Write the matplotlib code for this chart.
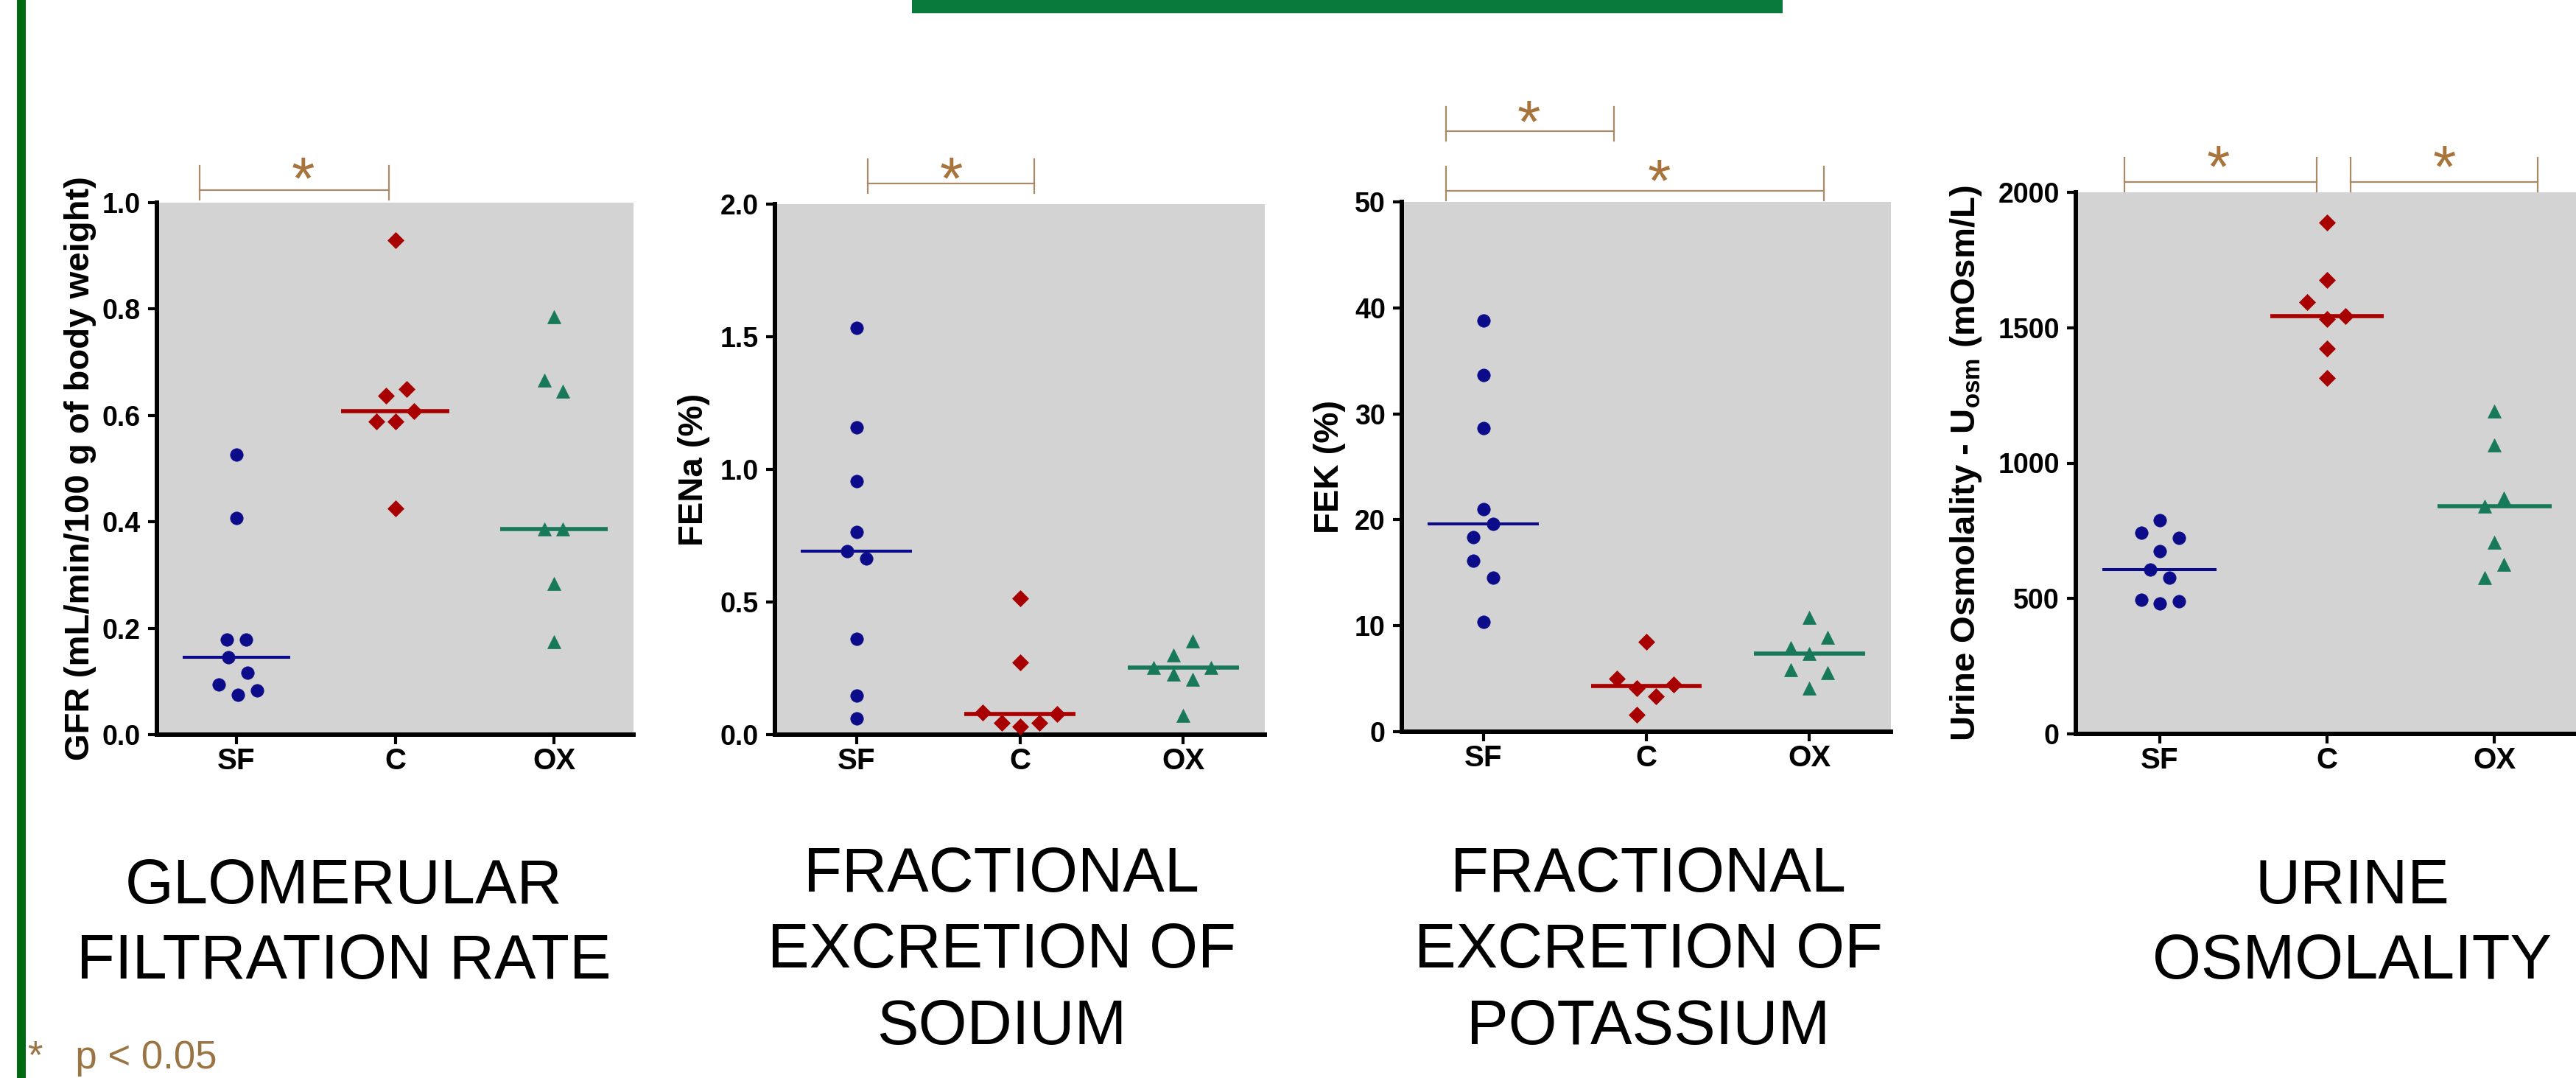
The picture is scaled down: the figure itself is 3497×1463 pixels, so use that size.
import numpy as np
import matplotlib
matplotlib.use("Agg")
import matplotlib.pyplot as plt

plt.rcParams['font.family'] = ['Liberation Sans', 'DejaVu Sans']
plt.rcParams['mathtext.fontset'] = 'custom'
plt.rcParams['mathtext.rm'] = 'Liberation Sans'
plt.rcParams['mathtext.bf'] = 'Liberation Sans:bold'

# ---------------- data ----------------
groups = ["SF", "C", "OX"]

gfr_sf = [0.527, 0.407, 0.178, 0.178, 0.146, 0.117, 0.094, 0.083, 0.075]
gfr_c = [0.929, 0.650, 0.637, 0.608, 0.589, 0.589, 0.425]
gfr_ox = [0.786, 0.666, 0.645, 0.387, 0.387, 0.284, 0.175]

fena_sf = [1.534, 1.158, 0.955, 0.764, 0.692, 0.665, 0.362, 0.148, 0.061]
fena_c = [0.513, 0.271, 0.084, 0.077, 0.044, 0.030, 0.044]
fena_ox = [0.354, 0.300, 0.253, 0.253, 0.229, 0.207, 0.072]

fek_sf = [38.77, 33.66, 28.64, 21.0, 19.58, 18.34, 16.12, 14.56, 10.35]
fek_c = [8.48, 5.02, 4.48, 4.13, 3.37, 1.60]
fek_ox = [10.79, 8.93, 7.90, 7.35, 5.82, 5.55, 4.13]

uosm_sf = [790, 743, 724, 674, 608, 578, 495, 490, 481]
uosm_c = [1888, 1676, 1595, 1543, 1532, 1423, 1314]
uosm_ox = [1193, 1068, 872, 840, 708, 625, 578]

# horizontal scatter spread of the points inside each group (category units)
gfr_dx = [[0, 0, -0.06, 0.06, -0.05, 0.07, -0.11, 0.13, 0.01],
          [0, 0.07, -0.06, 0.12, -0.12, 0, 0],
          [0, -0.06, 0.055, -0.06, 0.055, 0, 0]]
fena_dx = [[0, 0, 0, 0, -0.06, 0.06, 0, 0, 0],
           [0, 0, -0.23, 0.23, -0.11, 0, 0.12],
           [0.06, -0.06, -0.18, 0.17, -0.06, 0.06, 0]]
fek_dx = [[0, 0, 0, 0, 0.06, -0.06, -0.06, 0.06, 0],
          [0, -0.18, 0.165, -0.06, 0.057, -0.06],
          [0, 0.11, -0.116, 0, -0.116, 0.11, 0]]
uosm_dx = [[0, -0.11, 0.116, 0, -0.055, 0.058, -0.11, 0.116, 0],
           [0, 0, -0.12, 0.11, 0, 0, 0],
           [0, 0, 0.056, -0.058, 0, 0.056, -0.058]]

gfr_ticks = [0.0, 0.2, 0.4, 0.6, 0.8, 1.0]
fena_ticks = [0.0, 0.5, 1.0, 1.5, 2.0]
fek_ticks = [0, 10, 20, 30, 40, 50]
uosm_ticks = [0, 500, 1000, 1500, 2000]

titles = [["GLOMERULAR", "FILTRATION RATE"],
          ["FRACTIONAL", "EXCRETION OF", "SODIUM"],
          ["FRACTIONAL", "EXCRETION OF", "POTASSIUM"],
          ["URINE", "OSMOLALITY"]]
ylabels = ["GFR (mL/min/100 g of body weight)",
           "FENa (%)",
           "FEK (%)",
           r"Urine Osmolality - U$_{\mathbf{osm}}$ (mOsm/L)"]

# significance brackets: (start, end, star position) in category units
gfr_sig = [(-0.23, 0.96, 0.42)]
fena_sig = [(0.07, 1.09, 0.58)]
fek_sig = [(-0.23, 0.80, 0.28), (-0.23, 2.09, 1.08)]
uosm_sig = [(-0.21, 0.94, 0.35), (1.14, 2.26, 1.70)]

# ---------------- figure ----------------
W, H = 3497, 1463
DPI = 100
fig = plt.figure(figsize=(W / DPI, H / DPI), dpi=DPI)
fig.patch.set_facecolor('white')

colors = ['#0c0c8a', '#a80000', '#17795a']
markers = ['o', 'D', '^']
msizes = [12.5, 11, 13.5]
mlw = [2.9, 4.0, 4.0]
bg = '#d3d3d3'
br_col = '#a88a68'
star_col = '#a8743c'

panels = [
    dict(vals=[gfr_sf, gfr_c, gfr_ox], dx=gfr_dx, ticks=gfr_ticks, fmt='{:.1f}',
         box=(213, 275, 860, 997), sig=gfr_sig, sig_y=[1.0235], star_y=[1.073],
         ylab_x=109, title_x=467, title_y=[1226, 1328]),
    dict(vals=[fena_sf, fena_c, fena_ox], dx=fena_dx, ticks=fena_ticks, fmt='{:.1f}',
         box=(1052, 277, 1717, 997), sig=fena_sig, sig_y=[1.039], star_y=[1.075],
         ylab_x=942, title_x=1360, title_y=[1210, 1313, 1417]),
    dict(vals=[fek_sf, fek_c, fek_ox], dx=fek_dx, ticks=fek_ticks, fmt='{:d}',
         box=(1903, 274, 2567, 993), sig=fek_sig, sig_y=[1.1335, 1.021], star_y=[1.179, 1.067],
         ylab_x=1805, title_x=2238, title_y=[1210, 1313, 1417]),
    dict(vals=[uosm_sf, uosm_c, uosm_ox], dx=uosm_dx, ticks=uosm_ticks, fmt='{:d}',
         box=(2818, 261, 3500, 996), sig=uosm_sig, sig_y=[1.019, 1.019], star_y=[1.0735, 1.0735],
         ylab_x=2669, title_x=3193, title_y=[1226, 1328]),
]

star_fs = 58
for k, p in enumerate(panels):
    l, t, r, b = p['box']
    ax = fig.add_axes([l / W, 1 - b / H, (r - l) / W, (b - t) / H])
    ax.set_facecolor(bg)
    hpx = b - t
    for i, (vals, dxs) in enumerate(zip(p['vals'], p['dx'])):
        xs = i + np.array(dxs)
        ax.plot(xs, vals, linestyle='none', marker=markers[i], ms=msizes[i],
                mfc=colors[i], mec=colors[i], mew=0.5, clip_on=False, zorder=3)
        med = np.median(vals)
        ax.hlines(med, i - 0.34, i + 0.34, color=colors[i], lw=mlw[i], zorder=4)
    ax.set_xlim(-0.5, 2.5)
    ax.set_ylim(p['ticks'][0], p['ticks'][-1])
    ax.set_xticks(range(3))
    ax.set_xticklabels(groups, fontsize=29, fontweight='bold')
    ax.set_yticks(p['ticks'])
    ax.set_yticklabels([p['fmt'].format(v) for v in p['ticks']], fontsize=27, fontweight='bold')
    for s in ['top', 'right']:
        ax.spines[s].set_visible(False)
    for s in ['left', 'bottom']:
        ax.spines[s].set_linewidth(4.3)
        ax.spines[s].set_color('black')
    ax.tick_params(axis='both', direction='out', length=9, width=3, color='black')
    ax.tick_params(axis='y', pad=7)
    ax.tick_params(axis='x', pad=3)
    ax.set_ylabel(ylabels[k], fontsize=34, fontweight='bold', va='center', ha='center')
    ax.yaxis.set_label_coords(-(l - p['ylab_x']) / (r - l), 0.5)

    # significance brackets
    tr = ax.get_xaxis_transform()
    for (x1, x2, xs), yl, ys in zip(p['sig'], p['sig_y'], p['star_y']):
        lo = yl - 13 / hpx
        hi = yl + 33 / hpx
        ax.plot([x1, x2], [yl, yl], color=br_col, lw=1.6, transform=tr, clip_on=False)
        ax.plot([x1, x1], [lo, hi], color=br_col, lw=1.6, transform=tr, clip_on=False)
        ax.plot([x2, x2], [lo, hi], color=br_col, lw=1.6, transform=tr, clip_on=False)
        em = star_fs * DPI / 72.0
        ax.text(xs, ys - 0.58 * em / hpx, '*', transform=tr, ha='center', va='baseline',
                fontsize=star_fs, color=star_col, clip_on=False)

    for line, yb in zip(titles[k], p['title_y']):
        fig.text(p['title_x'] / W, 1 - yb / H, line, ha='center', va='baseline',
                 fontsize=61, color='black')

# decorative frame elements
fig.patches.append(plt.Rectangle((23 / W, 0), 12 / W, 1, transform=fig.transFigure,
                                 facecolor='#006a12', edgecolor='none', zorder=0))
fig.patches.append(plt.Rectangle((1238 / W, 1 - 18 / H), (2420 - 1238) / W, 18 / H,
                                 transform=fig.transFigure, facecolor='#0a7a3c',
                                 edgecolor='none', zorder=0))

fig.text(38 / W, 1 - 1450 / H, '*   p < 0.05', ha='left', va='baseline', fontsize=38,
         color='#9a7442')

fig.savefig('out.png', dpi=DPI)
